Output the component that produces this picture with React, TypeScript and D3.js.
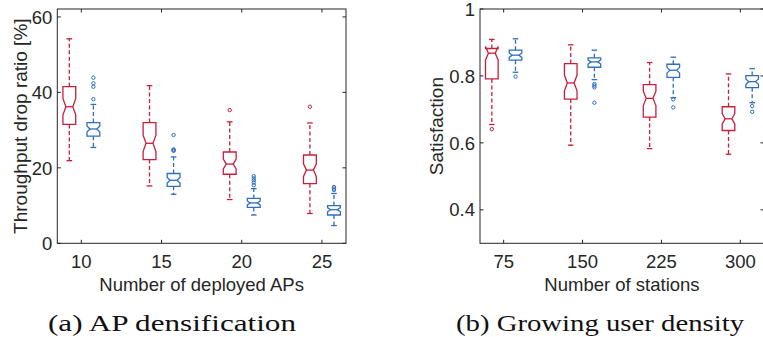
import * as d3 from "d3";
import React from "react";

// box stats per group: [lower whisker, q1, median, q3, upper whisker]
const apCounts = ["10", "15", "20", "25"];
const apRedStats = [
  [21.9, 31.5, 36.2, 41.5, 54.2],
  [15.2, 22.2, 26.5, 32.0, 41.8],
  [11.6, 18.3, 21.0, 24.2, 32.2],
  [7.9, 15.8, 19.4, 23.4, 31.9],
];
const apRedOutliers = [[], [], [35.3], [36.2]];
const apBlueStats = [
  [25.4, 28.4, 30.3, 32.0, 36.8],
  [13.0, 15.1, 16.7, 18.5, 22.9],
  [7.5, 9.5, 10.7, 11.9, 14.5],
  [4.7, 7.5, 8.9, 10.0, 13.2],
];
const apBlueOutliers = [
  [38.2, 41.5, 42.4, 43.9],
  [24.5, 24.7, 24.9, 28.7],
  [15.4, 16.1, 16.7, 17.2, 17.8],
  [14.1, 14.5, 14.9],
];
const apYTicks = [0, 20, 40, 60];

const stationCounts = ["75", "150", "225", "300"];
const stRedStats = [
  [0.655, 0.791, 0.868, 0.882, 0.909],
  [0.593, 0.731, 0.779, 0.837, 0.893],
  [0.583, 0.677, 0.733, 0.774, 0.84],
  [0.566, 0.637, 0.672, 0.708, 0.806],
];
const stRedOutliers = [[0.641], [], [], []];
const stBlueStats = [
  [0.811, 0.847, 0.862, 0.877, 0.911],
  [0.789, 0.826, 0.842, 0.854, 0.877],
  [0.735, 0.796, 0.817, 0.835, 0.856],
  [0.72, 0.765, 0.783, 0.801, 0.822],
];
const stBlueOutliers = [
  [0.798],
  [0.776, 0.771, 0.766, 0.72],
  [0.73, 0.706],
  [0.71, 0.693],
];
const stYTicks = [0.4, 0.6, 0.8, 1];

const SAMPLES = 50; // used for the notch width (MATLAB style)
const RED = "#c81e3c";
const BLUE = "#2f6fbd";
const INK = "#262626";
const SANS = "'Liberation Sans', Arial, Helvetica, sans-serif";
const SERIF = "'Liberation Serif', 'DejaVu Serif', serif";

interface PanelProps {
  x0: number;
  x1: number;
  yDomain: [number, number];
  yTicks: number[];
  tickFormat: (v: number) => string;
  categories: string[];
  series: { stats: number[][]; outliers: number[][]; color: string; offset: number }[];
  xLabel: string;
  yLabel: string;
  yLabelX: number;
  caption: string;
  captionX: number;
  captionWidth: number;
}

const top = 9;
const bottom = 243.3;

function Box({ s, cx, w, y, color }: { s: number[]; cx: number; w: number; y: d3.ScaleLinear<number, number>; color: string }) {
  const [lo, q1, med, q3, hi] = s;
  const notch = (1.57 * (q3 - q1)) / Math.sqrt(SAMPLES);
  const l = cx - w / 2;
  const r = cx + w / 2;
  const ind = w * 0.23;
  const pts: [number, number][] = [
    [l, q1], [l, med - notch], [l + ind, med], [l, med + notch], [l, q3],
    [r, q3], [r, med + notch], [r - ind, med], [r, med - notch], [r, q1],
  ];
  const path = d3.line<[number, number]>().x((d) => d[0]).y((d) => y(d[1]))(pts) + "Z";
  const cap = w * 0.22;
  return (
    <g stroke={color} fill="none" strokeWidth={1.3}>
      <line x1={cx} x2={cx} y1={y(q3)} y2={y(hi)} strokeDasharray="4 2.5" />
      <line x1={cx} x2={cx} y1={y(q1)} y2={y(lo)} strokeDasharray="4 2.5" />
      <line x1={cx - cap} x2={cx + cap} y1={y(hi)} y2={y(hi)} />
      <line x1={cx - cap} x2={cx + cap} y1={y(lo)} y2={y(lo)} />
      <path d={path} />
      <line x1={l + ind} x2={r - ind} y1={y(med)} y2={y(med)} />
    </g>
  );
}

function Panel(p: PanelProps) {
  const x = d3.scaleLinear().domain([0.7, 4.3]).range([p.x0, p.x1]);
  const y = d3.scaleLinear().domain(p.yDomain).range([bottom, top]);
  const w = x(1.16) - x(1);
  const tl = 3.5;
  return (
    <g fontFamily={SANS} fill={INK}>
      {p.series.map((ser, si) =>
        p.categories.map((c, i) => {
          const cx = x(i + 1 + ser.offset);
          return (
            <g key={`${si}-${c}`}>
              <Box s={ser.stats[i]} cx={cx} w={w} y={y} color={ser.color} />
              {ser.outliers[i].map((o, k) => (
                <circle key={k} cx={cx} cy={y(o)} r={1.7} fill="none" stroke={ser.color} strokeWidth={1} />
              ))}
            </g>
          );
        })
      )}
      <rect x={p.x0} y={top} width={p.x1 - p.x0} height={bottom - top} fill="none" stroke={INK} strokeWidth={1} />
      {p.categories.map((c, i) => (
        <g key={c}>
          <line x1={x(i + 1)} x2={x(i + 1)} y1={bottom} y2={bottom - tl} stroke={INK} />
          <line x1={x(i + 1)} x2={x(i + 1)} y1={top} y2={top + tl} stroke={INK} />
          <text x={x(i + 1)} y={bottom + 25} textAnchor="middle" fontSize={18.5}>
            {c}
          </text>
        </g>
      ))}
      {p.yTicks.map((t) => (
        <g key={t}>
          <line x1={p.x0} x2={p.x0 + tl} y1={y(t)} y2={y(t)} stroke={INK} />
          <line x1={p.x1} x2={p.x1 - tl} y1={y(t)} y2={y(t)} stroke={INK} />
          <text x={p.x0 - 5} y={y(t)} dy="0.36em" textAnchor="end" fontSize={18.5}>
            {p.tickFormat(t)}
          </text>
        </g>
      ))}
      <text x={(p.x0 + p.x1) / 2} y={291} textAnchor="middle" fontSize={18.5}>
        {p.xLabel}
      </text>
      <text
        transform={`translate(${p.yLabelX},${(top + bottom) / 2}) rotate(-90)`}
        textAnchor="middle"
        fontSize={19}
      >
        {p.yLabel}
      </text>
      <text
        x={p.captionX}
        y={331}
        textAnchor="middle"
        fontSize={24}
        fontFamily={SERIF}
        fill="#111"
        textLength={p.captionWidth}
        lengthAdjust="spacingAndGlyphs"
      >
        {p.caption}
      </text>
    </g>
  );
}

export default function App() {
  return (
    <svg
      width={763}
      height={337}
      viewBox="0 0 763 337"
      style={{ position: "absolute", left: 0, top: 0, background: "#fff" }}
    >
      <Panel
        x0={57.3}
        x1={346}
        yDomain={[0, 62.1]}
        yTicks={apYTicks}
        tickFormat={(v) => d3.format("d")(v)}
        categories={apCounts}
        series={[
          { stats: apRedStats, outliers: apRedOutliers, color: RED, offset: -0.15 },
          { stats: apBlueStats, outliers: apBlueOutliers, color: BLUE, offset: 0.15 },
        ]}
        xLabel="Number of deployed APs"
        yLabel="Throughput drop ratio [%]"
        yLabelX={27}
        caption="(a) AP densification"
        captionX={172}
        captionWidth={248}
      />
      <Panel
        x0={480}
        x1={764}
        yDomain={[0.3, 1]}
        yTicks={stYTicks}
        tickFormat={(v) => (v === 1 ? "1" : d3.format(".1f")(v))}
        categories={stationCounts}
        series={[
          { stats: stRedStats, outliers: stRedOutliers, color: RED, offset: -0.15 },
          { stats: stBlueStats, outliers: stBlueOutliers, color: BLUE, offset: 0.15 },
        ]}
        xLabel="Number of stations"
        yLabel="Satisfaction"
        yLabelX={443}
        caption="(b) Growing user density"
        captionX={600}
        captionWidth={288}
      />
    </svg>
  );
}
